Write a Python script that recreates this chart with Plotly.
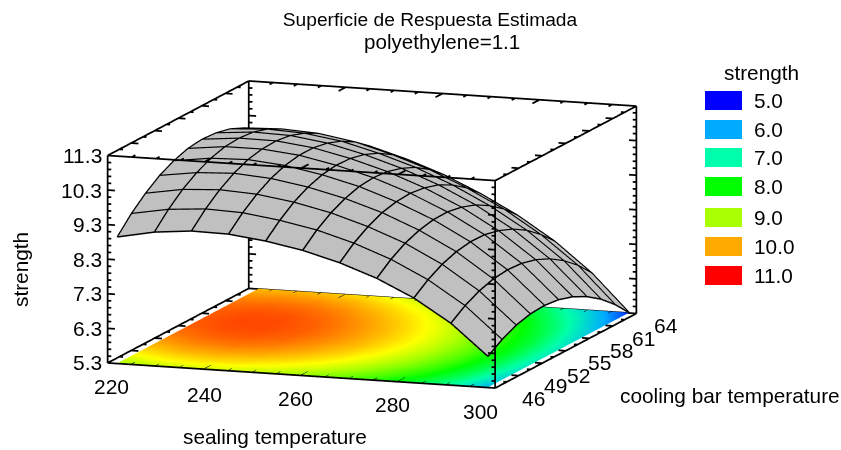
import plotly.graph_objects as go

sealing = [222.0, 229.65, 237.3, 244.95, 252.6, 260.25, 267.9, 275.55, 283.2, 290.85, 298.5]
cooling = [46.0, 47.8, 49.6, 51.4, 53.2, 55.0, 56.8, 58.6, 60.4, 62.2, 64.0]
strength = [
    [8.95, 9.16, 9.26, 9.24, 9.11, 8.91, 8.62, 8.24, 7.74, 7.08, 6.19],
    [9.41, 9.60, 9.68, 9.64, 9.49, 9.28, 8.97, 8.57, 8.05, 7.37, 6.46],
    [9.78, 9.96, 10.02, 9.96, 9.80, 9.56, 9.23, 8.82, 8.28, 7.58, 6.66],
    [10.08, 10.23, 10.28, 10.20, 10.02, 9.76, 9.42, 8.98, 8.43, 7.71, 6.77],
    [10.29, 10.43, 10.46, 10.36, 10.16, 9.89, 9.52, 9.07, 8.50, 7.76, 6.80],
    [10.43, 10.55, 10.55, 10.44, 10.22, 9.93, 9.55, 9.08, 8.49, 7.73, 6.75],
    [10.48, 10.58, 10.57, 10.44, 10.20, 9.89, 9.49, 9.00, 8.39, 7.62, 6.62],
    [10.45, 10.54, 10.51, 10.36, 10.10, 9.77, 9.36, 8.85, 8.22, 7.43, 6.41],
    [10.35, 10.41, 10.36, 10.20, 9.92, 9.58, 9.14, 8.61, 7.97, 7.16, 6.12],
    [10.16, 10.20, 10.14, 9.96, 9.66, 9.30, 8.84, 8.30, 7.63, 6.81, 5.75],
    [9.89, 9.92, 9.83, 9.63, 9.32, 8.94, 8.46, 7.90, 7.22, 6.37, 5.30],
]
x_ticks = [220, 240, 260, 280, 300]
x_minor = [225, 230, 235, 245, 250, 255, 265, 270, 275, 285, 290, 295]
y_ticks = [46, 49, 52, 55, 58, 61, 64]
y_minor = [47.5, 50.5, 53.5, 56.5, 59.5, 62.5]
z_ticks = [5.3, 6.3, 7.3, 8.3, 9.3, 10.3, 11.3]
z_minor = [5.5, 5.7, 5.9, 6.1, 6.5, 6.7, 6.9, 7.1, 7.5, 7.7, 7.9, 8.1, 8.5, 8.7, 8.9, 9.1,
           9.5, 9.7, 9.9, 10.1, 10.5, 10.7, 10.9, 11.1]
legend_values = ["5.0", "6.0", "7.0", "8.0", "9.0", "10.0", "11.0"]
legend_colors = ["#0000ff", "#00aaff", "#00ffaa", "#00ff00", "#aaff00", "#ffaa00", "#ff0000"]
level_values = [5, 6, 7, 8, 9, 10, 11]

X0, X1, Y0, Y1, Z0, Z1 = 220, 300, 46, 64, 5.3, 11.3
W, H = 841, 450
FONT = "Liberation Sans, Arial, sans-serif"
scale = [[(v - 5) / 6, c] for v, c in zip(level_values, legend_colors)]
scale.insert(5, [(9.5 - 5) / 6, "#ffff00"])

fig = go.Figure()
fig.add_trace(go.Surface(x=sealing, y=cooling, z=[[Z0 + 0.01] * len(sealing) for _ in cooling],
                         surfacecolor=strength, colorscale=scale, cmin=5, cmax=11, showscale=False,
                         hoverinfo="skip", lighting=dict(ambient=1, diffuse=0, specular=0, fresnel=0)))
fig.add_trace(go.Surface(x=sealing, y=cooling, z=strength,
                         surfacecolor=[[0] * len(sealing) for _ in cooling], cmin=0, cmax=1,
                         colorscale=[[0, "#c0c0c0"], [1, "#c0c0c0"]], showscale=False,
                         hoverinfo="skip", lighting=dict(ambient=1, diffuse=0, specular=0, fresnel=0)))

# wireframe
wx, wy, wz = [], [], []
lift = 0.012
for j, yv in enumerate(cooling):
    for i, xv in enumerate(sealing):
        wx.append(xv); wy.append(yv); wz.append(strength[j][i] + lift)
    wx.append(None); wy.append(None); wz.append(None)
for i, xv in enumerate(sealing):
    for j, yv in enumerate(cooling):
        wx.append(xv); wy.append(yv); wz.append(strength[j][i] + lift)
    wx.append(None); wy.append(None); wz.append(None)
fig.add_trace(go.Scatter3d(x=wx, y=wy, z=wz, mode="lines", line=dict(color="black", width=3),
                           hoverinfo="skip", showlegend=False))

# box and ticks
bx, by, bz = [], [], []
def seg(a, b):
    bx.extend([a[0], b[0], None]); by.extend([a[1], b[1], None]); bz.extend([a[2], b[2], None])
for y in (Y0, Y1):
    for z in (Z0, Z1):
        seg((X0, y, z), (X1, y, z))
for x in (X0, X1):
    for z in (Z0, Z1):
        seg((x, Y0, z), (x, Y1, z))
    for y in (Y0, Y1):
        seg((x, y, Z0), (x, y, Z1))
for vals, frac in ((z_ticks, 1.0), (z_minor, 0.5)):
    for z in vals:
        for x, y, d in ((X0, Y0, 1), (X0, Y1, 1), (X1, Y0, -1), (X1, Y1, -1)):
            seg((x, y, z), (x + d * 1.5 * frac, y, z))
for vals, frac in ((y_ticks, 1.0), (y_minor, 0.5)):
    for y in vals:
        for x, z, d in ((X0, Z0, 1), (X0, Z1, 1), (X1, Z0, -1), (X1, Z1, -1)):
            seg((x, y, z), (x + d * 1.5 * frac, y, z))
for vals, frac in ((x_ticks, 1.0), (x_minor, 0.5)):
    for x in vals:
        for y, z, d in ((Y0, Z0, 1), (Y0, Z1, 1), (Y1, Z0, -1), (Y1, Z1, -1)):
            seg((x, y, z), (x, y + d * 0.9 * frac, z))
fig.add_trace(go.Scatter3d(x=bx, y=by, z=bz, mode="lines", line=dict(color="black", width=3.5),
                           hoverinfo="skip", showlegend=False))

def lab(x, y, z, text, xs, ys, anchor="center"):
    return dict(x=x, y=y, z=z, text=text, showarrow=False, xshift=xs, yshift=ys, xanchor=anchor,
                yanchor="middle", font=dict(family=FONT, size=21, color="#000000"))
notes = []
for v, xs, ys in zip(x_ticks, (4, 0, -6, -6, -15), (-24, -25, -23, -23, -23)):
    notes.append(lab(v, Y0, Z0, str(v), xs, ys))
for v, xs, ys in zip(y_ticks, (38, 37, 36, 34, 32, 31, 30), (-10, -10, -12, -12, -12, -13, -12)):
    notes.append(lab(X1, v, Z0, str(v), xs, ys))
for v in z_ticks:
    notes.append(lab(X0, Y0, v, f"{v:.1f}", -4, 0, "right"))

ax = dict(visible=False, showbackground=False, showgrid=False, zeroline=False, showspikes=False)
d = 3
cx, cy = 372 / W, 1 - 234.5 / H
fig.update_layout(
    width=W, height=H, margin=dict(l=0, r=0, t=0, b=0), paper_bgcolor="white", showlegend=False,
    title=dict(text="Superficie de Respuesta Estimada", x=430 / W, xanchor="center", y=1 - 19 / H,
               yanchor="middle", font=dict(family=FONT, size=19.2, color="#000000")),
    scene=dict(
        domain=dict(x=[0, 2 * cx], y=[0, 2 * cy]),
        xaxis=dict(range=[X0 - 0.2, X1 + 0.2], **ax), yaxis=dict(range=[Y0 - 0.05, Y1 + 0.05], **ax),
        zaxis=dict(range=[Z0 - 0.02, Z1 + 0.02], **ax),
        aspectmode="manual", aspectratio=dict(x=1.915, y=1.993, z=0.986),
        camera=dict(projection=dict(type="orthographic"), up=dict(x=0, y=0, z=1),
                    center=dict(x=0, y=0, z=0),
                    eye=dict(x=0.325 * d, y=-0.928 * d, z=0.185 * d)),
        annotations=notes,
    ),
)

def text(px, py, s, anchor="center", angle=0, size=20.8):
    fig.add_annotation(x=px / W, y=1 - py / H, xref="paper", yref="paper", text=s, showarrow=False,
                       xanchor=anchor, yanchor="middle", textangle=angle,
                       font=dict(family=FONT, size=size, color="#000000"))
text(442, 41, "polyethylene=1.1", size=20.6)
text(275, 436, "sealing temperature")
text(730, 395, "cooling bar temperature")
text(20, 270, "strength", angle=-90)
text(761, 72, "strength")
swatch_tops = [91, 120, 148, 177, 208, 237, 266]
for top, c, s in zip(swatch_tops, legend_colors, legend_values):
    fig.add_shape(type="rect", xref="paper", yref="paper", x0=705 / W, x1=742 / W, y0=1 - top / H,
                  y1=1 - (top + 19) / H, fillcolor=c, line=dict(width=0))
    text(752, top + 9.5, s, anchor="left")

fig.write_html("out.html", config={"displayModeBar": False},
               post_script="document.body.style.margin='0';document.documentElement.style.overflow='hidden';")
